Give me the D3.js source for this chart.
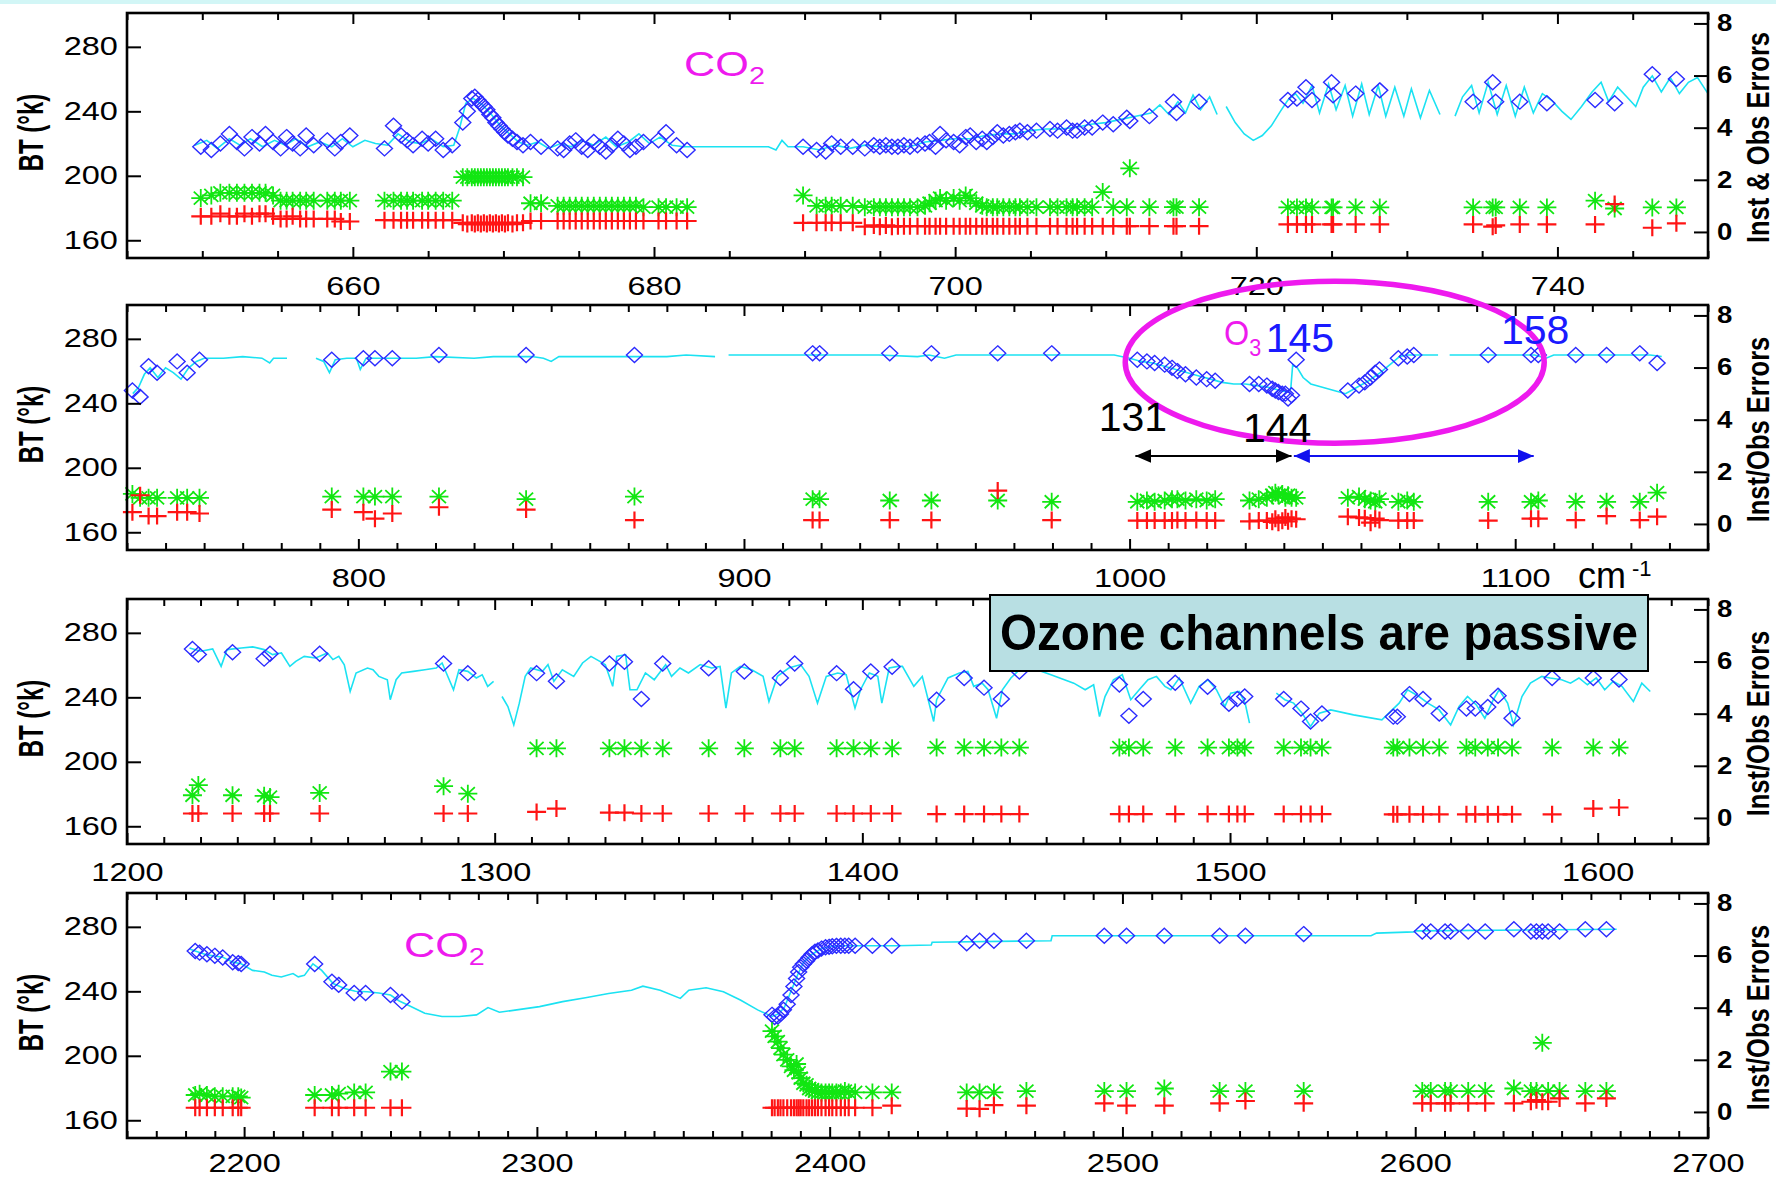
<!DOCTYPE html>
<html>
<head>
<meta charset="utf-8">
<script src="https://cdn.jsdelivr.net/npm/d3@7"></script>
<style>
  body { margin: 0; background: #fff; }
  svg { display: block; }
</style>
</head>
<body>
<svg id="chart"></svg>
<script>
// ---------- data ----------
// channels: [wavenumber (cm-1), BT (K), obs error, inst error]
// spectrum: [wavenumber, BT] ; null BT = gap in the line

var p1XDomain = [645, 750], p1XTicks = [660, 680, 700, 720, 740];
var p2XDomain = [740, 1150], p2XTicks = [800, 900, 1000, 1100];
var p3XDomain = [1200, 1630], p3XTicks = [1200, 1300, 1400, 1500, 1600];
var p4XDomain = [2160, 2700], p4XTicks = [2200, 2300, 2400, 2500, 2600, 2700];

var btTicks = [160, 200, 240, 280];
var errTicks = [0, 2, 4, 6, 8];

var p1Channels = [
  [649.9,218,1.3,0.6],[650.6,216,1.4,0.6],[651.2,220,1.5,0.7],[651.8,226,1.5,0.6],[652.3,221,1.5,0.6],
  [652.8,217,1.5,0.7],[653.3,224,1.5,0.6],[653.8,220,1.5,0.7],[654.2,226,1.5,0.7],[654.7,221,1.4,0.6],
  [655.2,217,1.2,0.5],[655.6,224,1.2,0.5],[656.0,220,1.2,0.6],[656.5,217,1.2,0.5],[656.9,225,1.2,0.5],
  [657.4,219,1.2,0.5],[658.3,222,1.2,0.5],[658.8,217,1.2,0.5],[659.2,221,1.2,0.4],[659.8,225,1.2,0.4],
  [662.1,217,1.2,0.45],[662.7,231,1.2,0.45],[663.2,225,1.2,0.45],[663.6,222,1.2,0.45],[664.0,219,1.2,0.45],
  [664.6,223,1.2,0.45],[665.0,220,1.2,0.45],[665.5,223,1.2,0.45],[666.0,216,1.2,0.45],[666.6,219,1.2,0.45],
  [667.3,233,2.1,0.35],[667.6,240,2.1,0.3],[667.9,248,2.1,0.35],[668.1,249,2.1,0.3],[668.3,247,2.1,0.35],
  [668.5,245,2.1,0.3],[668.7,243,2.1,0.35],[668.9,241,2.1,0.3],[669.1,238,2.1,0.35],[669.3,236,2.1,0.3],
  [669.5,233,2.1,0.35],[669.7,231,2.1,0.3],[669.9,229,2.1,0.35],[670.1,227,2.1,0.3],[670.3,225,2.1,0.35],
  [670.6,223,2.1,0.3],[670.9,221,2.1,0.35],[671.3,219,2.1,0.35],
  [671.8,221,1.1,0.42],[672.5,218,1.1,0.42],[673.6,217,1.0,0.42],[674.0,216,1.0,0.42],[674.4,220,1.0,0.42],
  [674.8,222,1.0,0.42],[675.2,218,1.0,0.42],[675.6,216,1.0,0.42],[676.0,221,1.0,0.42],[676.4,218,1.0,0.42],
  [676.8,215,1.0,0.42],[677.2,219,1.0,0.42],[677.6,223,1.0,0.42],[678.0,220,1.0,0.42],[678.4,216,1.0,0.42],
  [678.8,218,1.0,0.42],[679.3,221,0.95,0.42],[680.3,222,0.95,0.42],[680.8,227,0.95,0.42],[681.5,219,0.95,0.42],
  [682.2,216,0.95,0.42],
  [689.9,218,1.4,0.35],[690.8,216,1.0,0.35],[691.4,215,1.0,0.35],[691.8,220,1.0,0.35],[692.4,218,1.0,0.35],
  [693.2,218,1.0,0.35],[694.0,217,0.95,0.2],[694.6,219,0.95,0.25],[695.0,218,0.95,0.2],[695.4,219,0.95,0.25],
  [695.8,218,0.95,0.2],[696.2,218,0.95,0.22],[696.6,219,0.95,0.22],[697.0,218,0.95,0.22],[697.5,219,0.95,0.22],
  [698.0,220,1.0,0.22],[698.3,221,1.1,0.22],[698.7,218,1.2,0.22],[699.0,226,1.3,0.22],[699.4,222,1.2,0.22],
  [699.9,221,1.3,0.22],[700.3,219,1.2,0.22],[700.7,224,1.4,0.22],[701.0,225,1.3,0.22],[701.4,221,1.1,0.22],
  [701.8,223,1.0,0.22],[702.1,221,0.95,0.22],[702.5,224,0.95,0.22],[702.8,227,0.95,0.22],[703.2,225,0.95,0.22],
  [703.6,226,0.95,0.22],[704.0,227,0.95,0.22],[704.3,228,0.95,0.22],[704.8,227,0.95,0.22],[705.4,228,0.95,0.22],
  [706.3,229,0.95,0.22],[706.8,228,0.95,0.22],[707.4,230,0.95,0.22],[707.8,228,0.95,0.22],[708.1,228,0.95,0.22],
  [708.6,230,0.95,0.22],[709.1,230,0.95,0.22],[709.8,233,1.53,0.22],[710.5,232,0.95,0.22],[711.4,236,0.95,0.22],
  [711.6,234,2.44,0.22],[712.9,237,0.95,0.22],[714.5,246,0.95,0.22],[714.7,239,0.95,0.22],[716.2,246,0.95,0.22],
  [722.1,247,0.94,0.29],[722.7,248,0.94,0.29],[723.3,255,0.94,0.29],[723.7,247,0.94,0.29],[725.0,258,0.94,0.29],
  [725.1,250,0.94,0.29],[726.6,251,0.94,0.29],[728.2,253,0.94,0.29],
  [734.4,246,0.94,0.29],[735.7,258,0.94,0.2],[735.9,246,0.94,0.25],[737.5,246,0.94,0.29],[739.3,245,0.94,0.29],
  [742.5,247,1.2,0.29],[743.8,245,0.9,1.07],[746.3,263,0.94,0.16],[747.9,260,0.94,0.33]
];

var p1Spectrum = [
  [649.5,219],[650.3,222],[651,217],[651.8,223],[652.5,219],[653.2,223],[654,218],[654.8,222],[655.5,219],
  [656.2,223],[657,218],[657.8,221],[658.6,218],[659.3,223],[660,218],[660.8,222],[661.5,220],[662.3,219],
  [663,226],[663.8,221],[664.5,220],[665.2,223],[666,218],[666.7,219],[667.1,230],[667.5,245],[668,248],
  [668.6,244],[669.2,238],[669.8,231],[670.4,226],[671,221],[671.6,219],[672.3,221],[673,217],[673.8,220],
  [674.5,218],[675.2,222],[676,219],[676.8,224],[677.5,218],[678.3,221],[679,226],[679.7,220],[680.4,224],
  [681.2,219],[682,218],[682.6,218],[687.6,218],[688.1,216],[688.5,222],[688.9,218],[689.9,218],[691,216],
  [692,219],[693,217],[694,219],[695,218],[696,219],[697,218],[698,221],[699,222],[700,223],[701,223],
  [702,225],[703,226],[704,226],[705,228],[706,229],[707,229],[708,230],[709,232],[710,233],[711,235],
  [712,237],[713,239],[713.6,244],[714.2,238],[714.8,246],[715.3,239],[715.8,250],[716.3,241],[716.9,249],
  [717.4,238],[717.6,null],[718,243],[718.6,233],[719.2,226],[719.8,222],[720.4,225],[721,231],[721.6,240],
  [722.1,247],[722.6,251],[723.1,245],[723.7,256],[724.2,239],[724.8,257],[725.3,241],[725.9,256],[726.4,237],
  [727,257],[727.5,238],[728.1,256],[728.6,237],[729.2,255],[729.8,237],[730.3,254],[730.9,236],[731.5,253],
  [732.2,238],[732.6,null],[733.2,237],[733.7,249],[734.3,256],[734.8,239],[735.4,258],[736,238],[736.6,256],
  [737.2,237],[737.8,255],[738.4,239],[739,251],[739.6,247],[740.3,240],[740.9,235],[741.6,243],[742.3,252],
  [742.9,258],[743.4,246],[744,255],[744.6,249],[745.2,243],[745.7,255],[746.3,262],[746.9,252],[747.5,261],
  [748.1,251],[748.7,258],[749.3,261],[750,251]
];

var p2Channels = [
  [741.4,248,1.15,0.45],[743.4,244,1.0,1.1],[745.6,263,1.0,0.3],[747.8,259,1.0,0.3],[753.0,266,1.0,0.45],
  [755.6,259,1.0,0.45],[758.8,267,1.0,0.4],[793.1,267,1.05,0.55],[801.3,268,1.05,0.45],[804.3,268,1.05,0.2],
  [808.8,268,1.05,0.4],[820.9,270,1.05,0.64],[843.5,270,0.95,0.55],[871.6,270,1.05,0.15],[917.8,271,0.95,0.15],
  [919.6,271,0.95,0.15],[937.8,271,0.9,0.15],[948.6,271,0.9,0.15],[965.8,271,0.9,1.28],[979.8,271,0.85,0.15],
  [1002.0,267,0.85,0.13],[1004.5,266,0.9,0.13],[1006.5,265,0.85,0.13],[1009.1,264,0.9,0.13],[1011.0,262,0.95,0.13],
  [1012.4,260,0.95,0.15],[1014.5,258,0.9,0.13],[1017.3,256,0.95,0.15],[1020.0,255,0.9,0.13],[1022.2,254,0.95,0.13],
  [1031.1,252,0.9,0.1],[1033.5,252,0.95,0.13],[1035.6,251,1.0,0.13],[1037.0,249,1.1,0.08],[1037.8,248,1.2,0.2],
  [1038.6,247,1.1,0.05],[1039.6,246,1.15,0.12],[1040.4,246,1.0,0.25],[1041.1,243,1.1,0.1],[1042.0,245,1.0,0.2],
  [1043.2,267,1.0,0.18],[1056.6,248,1.0,0.28],[1059.5,251,1.05,0.25],[1061.0,253,0.95,0.22],[1062.5,256,0.9,0.05],
  [1063.7,259,0.85,0.2],[1064.8,261,0.95,0.15],[1069.7,268,0.85,0.13],[1072.0,269,0.9,0.13],[1073.7,270,0.85,0.13],
  [1093.0,270,0.85,0.13],[1104.1,270,0.85,0.2],[1106.0,270,0.9,0.2],[1115.7,270,0.85,0.15],[1123.7,270,0.85,0.3],
  [1132.3,271,0.85,0.15],[1136.8,265,1.2,0.28]
];

var p2Spectrum = [
  [741.5,246],[743,250],[744.5,258],[746,262],[748,256],[750,262],[752,259],[754,255],[756,262],[758,266],
  [760,268],[765,268],[770,269],[775,268],[777,265],[778,268],[781.5,268],[782,null],[789,268],[791,266],
  [792.5,259],[794,267],[797,268],[799.5,268],[800.5,261],[802,268],[805,268],[810,268],[815,268],[820,269],
  [830,268],[835,269],[845,269],[848,268],[850,266],[852,269],[870,269],[880,269],[885,270],[892.5,269],
  [893,null],[896,270],[905,270],[915,270],[925,270],[935,270],[945,269],[948,270],[952,268],[955,270],
  [970,270],[985,270],[996,270],[1000,268],[1003,266],[1006,265],[1009,263],[1012,261],[1015,259],[1018,257],
  [1021,255],[1024,253],[1027,252],[1030,252],[1033,251],[1036,250],[1039,248],[1041,247],[1041.8,249],
  [1042.3,264],[1043.5,262],[1045,256],[1047,252],[1050,250],[1053,248],[1056,246],[1059,250],[1062,254],
  [1065,259],[1068,265],[1070,269],[1072,270],[1080,270],[1081,null],[1083,270],[1095,270],[1105,270],
  [1108,268],[1110,270],[1125,270],[1135,270],[1138,269]
];

var p3Channels = [
  [1217.8,270,0.87,0.17],[1219.4,266.5,1.26,0.17],[1228.7,268,0.87,0.17],[1237.3,264,0.85,0.17],[1238.9,267,0.8,0.17],
  [1252.4,267,0.96,0.17],[1286.1,261,1.22,0.17],[1292.7,255,0.93,0.17],[1311.4,255,2.67,0.23],[1316.8,250,2.67,0.36],
  [1331.2,261,2.67,0.2],[1335.3,262,2.67,0.2],[1339.9,239,2.67,0.17],[1345.7,261,2.67,0.17],[1358.2,258,2.67,0.17],
  [1367.9,256,2.67,0.17],[1377.7,252,2.67,0.17],[1381.6,261,2.67,0.17],[1393.0,255,2.67,0.17],[1397.6,245,2.67,0.17],
  [1402.3,256,2.67,0.17],[1408.1,259,2.67,0.17],[1420.2,238.5,2.7,0.15],[1427.7,252,2.7,0.15],[1433.1,246,2.7,0.15],
  [1437.8,239,2.7,0.15],[1442.7,256,2.7,0.15],[1469.9,248,2.7,0.15],[1472.5,228.5,2.7,0.15],[1476.4,239,2.7,0.15],
  [1485.1,249,2.7,0.15],[1493.9,246.5,2.7,0.15],[1499.7,236,2.7,0.15],[1502.0,239,2.7,0.15],[1504.0,240.5,2.7,0.15],
  [1514.6,239,2.7,0.15],[1519.3,233,2.7,0.15],[1521.9,225,2.7,0.15],[1525.0,230,2.7,0.15],[1544.4,228,2.7,0.14],
  [1545.5,228,2.7,0.14],[1548.8,242,2.7,0.14],[1552.5,239,2.7,0.14],[1556.9,230,2.7,0.14],[1564.3,233,2.7,0.14],
  [1566.7,233,2.7,0.14],[1570.1,234,2.7,0.14],[1572.9,241,2.7,0.14],[1576.7,227,2.7,0.14],[1587.6,252,2.7,0.14],
  [1598.8,252,2.7,0.36],[1605.8,251,2.7,0.4]
];

var p3Spectrum = [
  [1217,270.6],[1220.1,268.6],[1223.3,270],[1225.6,259.2],[1227.2,269.6],[1231.1,270.6],[1234.2,271.3],[1237.3,269.6],
  [1239.6,266.5],[1242,267.5],[1244.3,259.2],[1245.9,262.3],[1248.2,265.4],[1251.3,264.4],[1254.5,267.5],[1256,263.4],
  [1257.6,265.4],[1259.1,260.2],[1260.7,243.6],[1262.3,255.1],[1265.4,258.2],[1266.9,257.1],[1268.5,253],[1270.8,250.9],
  [1271.6,238.5],[1273.2,250.9],[1274.7,255.1],[1277.9,256.1],[1281,257.1],[1284.1,258.2],[1285.7,261.3],[1288.8,244.7],
  [1290.3,257.1],[1292.7,256.1],[1295,252],[1296.6,254],[1298.1,246.8],[1299.7,249.9],[1300.5,null],[1302,240.5],
  [1303.6,234.3],[1305.2,222.9],[1306.7,236.4],[1308.3,253],[1309.8,258.2],[1313,256.1],[1314.5,260.3],[1316.1,249.9],
  [1318.4,257.1],[1321.5,253],[1323.9,261.3],[1326.2,265.4],[1328.6,262.3],[1330.1,260.2],[1332.1,246.8],[1333.2,265.4],
  [1335.6,266.5],[1336.8,244.7],[1338.7,244.7],[1341,255.1],[1343.4,250.9],[1346.5,260.2],[1348.1,253],[1350.4,258.2],
  [1352.7,255.1],[1355.9,260.3],[1359,258.2],[1361.3,259.2],[1362.9,233.3],[1364.4,255.1],[1366.8,259.2],[1369.9,257.1],
  [1373,253],[1374.6,237.4],[1376.9,253],[1380,258.2],[1383.2,260.3],[1385.5,253],[1387.8,236.4],[1390.2,253],
  [1393.3,255.1],[1395.6,254],[1398,233.3],[1399.5,244.7],[1401.9,255.1],[1404.2,253],[1405.3,236.4],[1407.3,258.2],
  [1409.7,259.2],[1410.9,259.2],[1414,246.8],[1416.3,253],[1419.4,225],[1420.2,238.5],[1423.3,252],[1426.4,255.1],
  [1428.7,256.1],[1430.3,246.8],[1432.6,248.8],[1434.2,244.7],[1436.5,227],[1438.1,244.7],[1440.4,252],[1442.7,257.1],
  [1445,259.2],[1451.3,254],[1457.5,248.8],[1460.6,244.7],[1462.9,247.8],[1464.5,228.1],[1466,240.5],[1468.3,250.9],
  [1470.7,254],[1473,238.5],[1475.3,244.7],[1477.7,250.9],[1480,253],[1482.3,246.8],[1483.9,244.7],[1486.2,252],
  [1489.3,236.4],[1491.6,246.8],[1494,250.9],[1496.3,244.7],[1498.6,234.3],[1500.2,242.6],[1502.5,243.6],[1504.1,236.4],
  [1505.3,224],[1505.4,null],[1512.6,242.6],[1514.9,238.5],[1517.3,236.4],[1519.6,230.2],[1521.9,221.9],[1524.3,230.2],
  [1527.4,232.2],[1533.6,229.1],[1541.3,226],[1546,236.4],[1548.3,244.7],[1551.4,240.5],[1553.8,236.4],[1556.9,232.2],
  [1560,222.9],[1562.3,234.3],[1564.6,240.5],[1567,235.3],[1569.3,227],[1571.6,238.5],[1573.2,244.7],[1575.5,236.4],
  [1577.1,222.9],[1579.4,240.5],[1581.7,248.8],[1584.8,253],[1587.1,252],[1590.2,250.9],[1592.6,248.8],[1594.9,252],
  [1597.2,247.8],[1599.6,252],[1601.9,244.7],[1604.2,249.9],[1606.6,246.8],[1609.7,237.4],[1612,248.8],[1614.3,243.6]
];

var p4Channels = [
  [2183.3,265,0.65,0.16],[2184.8,264,0.7,0.16],[2187.3,263,0.65,0.16],[2190,262,0.6,0.16],[2192.7,261,0.6,0.16],
  [2196.1,258,0.6,0.16],[2198,257.5,0.6,0.16],[2199,257,0.55,0.16],[2224.1,257,0.65,0.16],[2230,246,0.65,0.16],
  [2232.3,244,0.7,0.16],[2237.6,239,0.75,0.16],[2241.5,239,0.75,0.16],[2250,237.7,1.55,0.16],[2253.9,233.6,1.55,0.16],
  [2380.3,225.4,3.1,0.16],[2381.2,224,2.9,0.16],[2382.3,224.4,2.7,0.16],[2383.2,226,2.45,0.16],[2384.2,228.5,2.2,0.16],
  [2385.5,232,2.0,0.16],[2386.8,237.7,1.75,0.16],[2387.8,243,1.6,0.16],[2388.7,248,1.84,0.16],[2389.4,252,1.5,0.16],
  [2390.1,255,1.3,0.16],[2391,257,1.1,0.16],[2392.1,259,1.04,0.16],[2393,261,0.9,0.16],[2394,263,0.85,0.16],
  [2395,264.5,0.8,0.16],[2396,265.3,0.75,0.16],[2397.2,266.5,0.75,0.16],[2398.6,267.3,0.75,0.16],[2399.8,267.6,0.75,0.16],
  [2400.9,268,0.75,0.16],[2402.3,268.2,0.75,0.16],[2403.8,268.3,0.75,0.16],[2405.2,268.3,0.8,0.16],[2406.5,268.3,0.75,0.16],
  [2408.7,268.3,0.75,0.16],[2414.6,268.3,0.75,0.16],
  [2421.2,268.3,0.75,0.24],[2446.8,269.8,0.75,0.13],[2451.2,271.4,0.75,0.12],[2456.1,271.4,0.75,0.26],[2467.2,271.4,0.8,0.24],
  [2493.8,274.5,0.8,0.33],[2501.4,274.5,0.8,0.24],[2514.3,274.5,0.9,0.24],[2533.2,274.5,0.8,0.33],[2542,274.5,0.8,0.42],
  [2561.9,275.5,0.8,0.33],[2602.4,277.1,0.8,0.33],[2605.3,277.1,0.8,0.33],[2610.2,277.1,0.8,0.33],[2612.1,277.1,0.8,0.33],
  [2618.1,277.1,0.8,0.33],[2623.9,277.1,0.8,0.33],[2633.7,278.5,0.9,0.33],[2639.5,277.1,0.8,0.39],[2641.4,277.1,0.8,0.45],
  [2643.4,277.1,2.65,0.39],[2645.4,277.1,0.8,0.39],[2649.3,277.1,0.8,0.52],[2658.1,278.5,0.8,0.33],[2665.3,278.5,0.8,0.52]
];

var p4Spectrum = [
  [2181.4,266.3],[2183.3,265],[2187.3,262.6],[2192.7,261.2],[2196.1,258.1],[2199,257.1],[2202.9,253],[2206.9,252],
  [2209.5,250],[2212.7,248.9],[2216.7,251],[2218.5,249],[2220.6,249.9],[2223.5,257.1],[2226.5,253],[2230.4,244.8],
  [2234.3,241.8],[2238,240],[2242.1,239.7],[2246,239],[2250,237.7],[2253,234],[2255.9,231.5],[2261.7,226.4],
  [2267.6,224.4],[2273.5,224.4],[2279.4,225.4],[2283.3,229.9],[2287.2,227],[2293.1,228.5],[2300.9,230.5],[2308.8,233.6],
  [2316.6,236],[2324.5,238.7],[2332.3,240.7],[2336.2,243.2],[2342.1,240.7],[2349,235.6],[2351.9,240.7],[2357.8,242.2],
  [2363.7,239.7],[2369.5,234.6],[2375.4,228.5],[2380.3,224.4],[2382.5,226],[2384.5,230],[2387.2,241.8],[2389,250],
  [2391.1,258.1],[2394,263],[2397,266.3],[2400,267.8],[2404.8,268.3],[2422.5,268.3],[2434.7,268.7],[2435,270.4],
  [2475.6,271.4],[2476,274.5],[2584.9,274.5],[2586.8,276.1],[2599.5,276.9],[2600,277.5],[2668.8,278.5]
];

// annotation anchors (data units of the panel they sit in)
var o3Numbers = [
  {text: "131", wn: 992.0, bt: 222.8, color: "#000000"},
  {text: "144", wn: 1029.4, bt: 216.0, color: "#000000"},
  {text: "145", wn: 1035.3, bt: 271.8, color: "#1a1aff"},
  {text: "158", wn: 1096.3, bt: 276.8, color: "#1a1aff"}
];
var o3Arrows = [
  {from: 1001.5, to: 1042.0, bt: 207.3, color: "#000000", id: "headBlack"},
  {from: 1042.6, to: 1104.8, bt: 207.3, color: "#1010ee", id: "headBlue"}
];

// ---------- layout ----------
var W = 1776, H = 1178,
  plotLeft = 127, plotRight = 1708, plotHeight = 245,
  panelTops = [13, 305, 599, 893],
  labelPads = [19, 19, 19, 16],
  btDomain = [149, 301],
  errDomain = [-1, 8.4],
  textFont = "'Liberation Sans', Arial, sans-serif",
  lineColor = "#1be2f2", diamondColor = "#2b2bff", obsColor = "#12e612", instColor = "#ff1414",
  magenta = "#ee1aee";

var panels = [
  {spectrum: p1Spectrum, channels: p1Channels, xDomain: p1XDomain, majors: p1XTicks, minorStep: 5, errTitle: "Inst & Obs Errors"},
  {spectrum: p2Spectrum, channels: p2Channels, xDomain: p2XDomain, majors: p2XTicks, minorStep: 10, errTitle: "Inst/Obs Errors"},
  {spectrum: p3Spectrum, channels: p3Channels, xDomain: p3XDomain, majors: p3XTicks, minorStep: 10, errTitle: "Inst/Obs Errors"},
  {spectrum: p4Spectrum, channels: p4Channels, xDomain: p4XDomain, majors: p4XTicks, minorStep: 10, errTitle: "Inst/Obs Errors"}
];

var diamondPath = "M0,-7.5L8,0L0,7.5L-8,0Z",
  asteriskPath = "M-9.5,0H9.5M0,-9V9M-7,-6.5L7,6.5M-7,6.5L7,-6.5",
  plusPath = "M-9.5,0H9.5M0,-8.5V8.5";

var svg = d3.select("#chart").attr("width", W).attr("height", H);
svg.append("rect").attr("width", W).attr("height", H).attr("fill", "#fff");
svg.append("rect").attr("width", W).attr("height", 4).attr("fill", "#d2f6f6");

var scales = [];

function styleAxis(g, size, weight, sx) {
  g.select(".domain").remove();
  g.selectAll(".tick line").attr("stroke", "#000").attr("stroke-width", 2);
  g.attr("font-family", textFont).attr("font-size", size).attr("font-weight", weight);
  g.selectAll("text").attr("fill", "#000").attr("transform", "scale(" + sx + ",1)");
}

panels.forEach(function(p, i) {
  var top = panelTops[i], bottom = top + plotHeight;
  var x = d3.scaleLinear().domain(p.xDomain).range([plotLeft, plotRight]);
  var y = d3.scaleLinear().domain(btDomain).range([bottom, top]);
  var yErr = d3.scaleLinear().domain(errDomain).range([bottom, top]);
  scales.push({x: x, y: y, yErr: yErr, top: top, bottom: bottom});

  var g = svg.append("g").attr("class", "panel");

  // calculated BT spectrum
  g.append("path")
    .datum(p.spectrum)
    .attr("fill", "none")
    .attr("stroke", lineColor)
    .attr("stroke-width", 1.6)
    .attr("d", d3.line()
      .defined(function(d) { return d[1] != null; })
      .x(function(d) { return x(d[0]); })
      .y(function(d) { return y(d[1]); }));

  // selected channels BT
  g.selectAll("path.bt")
    .data(p.channels).enter().append("path")
    .attr("class", "bt")
    .attr("d", diamondPath)
    .attr("transform", function(d) { return "translate(" + x(d[0]) + "," + y(d[1]) + ")"; })
    .attr("fill", "none")
    .attr("stroke", diamondColor)
    .attr("stroke-width", 1.4);

  // observation errors
  g.selectAll("path.obs")
    .data(p.channels).enter().append("path")
    .attr("class", "obs")
    .attr("d", asteriskPath)
    .attr("transform", function(d) { return "translate(" + x(d[0]) + "," + yErr(d[2]) + ")"; })
    .attr("fill", "none")
    .attr("stroke", obsColor)
    .attr("stroke-width", 1.8);

  // instrument errors
  g.selectAll("path.inst")
    .data(p.channels).enter().append("path")
    .attr("class", "inst")
    .attr("d", plusPath)
    .attr("transform", function(d) { return "translate(" + x(d[0]) + "," + yErr(d[3]) + ")"; })
    .attr("fill", "none")
    .attr("stroke", instColor)
    .attr("stroke-width", 2.2);

  // frame
  g.append("rect")
    .attr("x", plotLeft).attr("y", top)
    .attr("width", plotRight - plotLeft).attr("height", plotHeight)
    .attr("fill", "none").attr("stroke", "#000").attr("stroke-width", 2.6);

  // x axes (ticks inward, top and bottom)
  var minors = d3.range(p.xDomain[0], p.xDomain[1] + 0.01, p.minorStep)
    .filter(function(v) { return p.majors.indexOf(v) < 0; });

  g.append("g").attr("transform", "translate(0," + bottom + ")")
    .call(d3.axisBottom(x).tickValues(minors).tickSizeInner(-7).tickSizeOuter(0).tickFormat(""))
    .call(styleAxis, 25, "normal", 1.3);
  g.append("g").attr("transform", "translate(0," + bottom + ")")
    .call(d3.axisBottom(x).tickValues(p.majors).tickSizeInner(-11).tickSizeOuter(0).tickPadding(labelPads[i]).tickFormat(d3.format("d")))
    .call(styleAxis, 25, "normal", 1.3);
  g.append("g").attr("transform", "translate(0," + top + ")")
    .call(d3.axisTop(x).tickValues(minors).tickSizeInner(-7).tickSizeOuter(0).tickFormat(""))
    .call(styleAxis, 25, "normal", 1.3);
  g.append("g").attr("transform", "translate(0," + top + ")")
    .call(d3.axisTop(x).tickValues(p.majors).tickSizeInner(-11).tickSizeOuter(0).tickFormat(""))
    .call(styleAxis, 25, "normal", 1.3);

  // left BT axis
  g.append("g").attr("transform", "translate(" + plotLeft + ",0)")
    .call(d3.axisLeft(y).tickValues(btTicks).tickSizeInner(-14).tickSizeOuter(0).tickPadding(7).tickFormat(d3.format("d")))
    .call(styleAxis, 25, "normal", 1.3);

  // right error axis
  g.append("g").attr("transform", "translate(" + plotRight + ",0)")
    .call(d3.axisRight(yErr).tickValues(errTicks).tickSizeInner(-14).tickSizeOuter(0).tickPadding(7.5).tickFormat(d3.format("d")))
    .call(styleAxis, 23, "bold", 1.2);

  // axis titles
  var mid = (top + bottom) / 2;
  g.append("text")
    .attr("transform", "translate(43," + (mid - 3) + ") scale(1.45,1) rotate(-90)")
    .attr("text-anchor", "middle")
    .attr("font-family", textFont).attr("font-weight", "bold").attr("font-size", 24)
    .attr("fill", "#000")
    .text("BT (°k)");
  g.append("text")
    .attr("transform", "translate(1769," + (mid + 2) + ") scale(1.26,1) rotate(-90)")
    .attr("text-anchor", "middle")
    .attr("font-family", textFont).attr("font-weight", "bold").attr("font-size", 25.5)
    .attr("fill", "#000")
    .text(p.errTitle);
});

// ---------- annotations ----------
function gasLabel(sx, px, py, main, sub, subDy) {
  var t = svg.append("text")
    .attr("transform", "translate(" + px + "," + py + ") scale(" + sx + ",1)")
    .attr("font-family", textFont).attr("font-size", 36).attr("fill", magenta);
  t.append("tspan").text(main);
  t.append("tspan").attr("font-size", 24).attr("dy", subDy).text(sub);
}

var s1 = scales[0], s2 = scales[1], s3 = scales[2], s4 = scales[3];
gasLabel(1.2, s1.x(682.0), s1.y(261.9), "CO", "2", 8);
gasLabel(1.2, s4.x(2254.6), s4.y(261.3), "CO", "2", 8);
gasLabel(0.9, s2.x(1024.5), s2.y(275.9), "O", "3", 11);

// ellipse around the ozone band
svg.append("ellipse")
  .attr("cx", s2.x(1053.2)).attr("cy", s2.y(265.5))
  .attr("rx", 209.5).attr("ry", 81)
  .attr("fill", "none").attr("stroke", magenta).attr("stroke-width", 5.5);

// channel numbers
svg.selectAll("text.chan")
  .data(o3Numbers).enter().append("text")
  .attr("class", "chan")
  .attr("x", function(d) { return s2.x(d.wn); })
  .attr("y", function(d) { return s2.y(d.bt); })
  .attr("font-family", textFont).attr("font-size", 41)
  .attr("fill", function(d) { return d.color; })
  .text(function(d) { return d.text; });

// arrows
var defs = svg.append("defs");
o3Arrows.forEach(function(a) {
  defs.append("marker")
    .attr("id", a.id)
    .attr("viewBox", "0 0 16 14")
    .attr("refX", 16).attr("refY", 7)
    .attr("markerWidth", 16).attr("markerHeight", 14)
    .attr("markerUnits", "userSpaceOnUse")
    .attr("orient", "auto-start-reverse")
    .append("path").attr("d", "M0,0L16,7L0,14Z").attr("fill", a.color);
});
svg.selectAll("line.arrow")
  .data(o3Arrows).enter().append("line")
  .attr("class", "arrow")
  .attr("x1", function(d) { return s2.x(d.from); })
  .attr("x2", function(d) { return s2.x(d.to); })
  .attr("y1", function(d) { return s2.y(d.bt); })
  .attr("y2", function(d) { return s2.y(d.bt); })
  .attr("stroke", function(d) { return d.color; })
  .attr("stroke-width", 2)
  .attr("marker-start", function(d) { return "url(#" + d.id + ")"; })
  .attr("marker-end", function(d) { return "url(#" + d.id + ")"; });

// wavenumber unit
var unit = svg.append("text")
  .attr("x", 1578).attr("y", s2.bottom + 38)
  .attr("font-family", textFont).attr("font-size", 36).attr("fill", "#000");
unit.append("tspan").text("cm");
unit.append("tspan").attr("font-size", 22).attr("dx", 6).attr("dy", -12).text("-1");

// boxed note over panel 3
var noteTop = s3.top - 4;
svg.append("rect")
  .attr("x", 990).attr("y", noteTop)
  .attr("width", 658).attr("height", 76)
  .attr("fill", "#b8dfe3").attr("stroke", "#000").attr("stroke-width", 2);
svg.append("text")
  .attr("x", 1000).attr("y", noteTop + 55)
  .attr("textLength", 638).attr("lengthAdjust", "spacingAndGlyphs")
  .attr("font-family", "'Liberation Sans Narrow', 'Liberation Sans', Arial, sans-serif")
  .attr("font-weight", "bold").attr("font-size", 50)
  .attr("fill", "#000")
  .text("Ozone channels are passive");
</script>
</body>
</html>
